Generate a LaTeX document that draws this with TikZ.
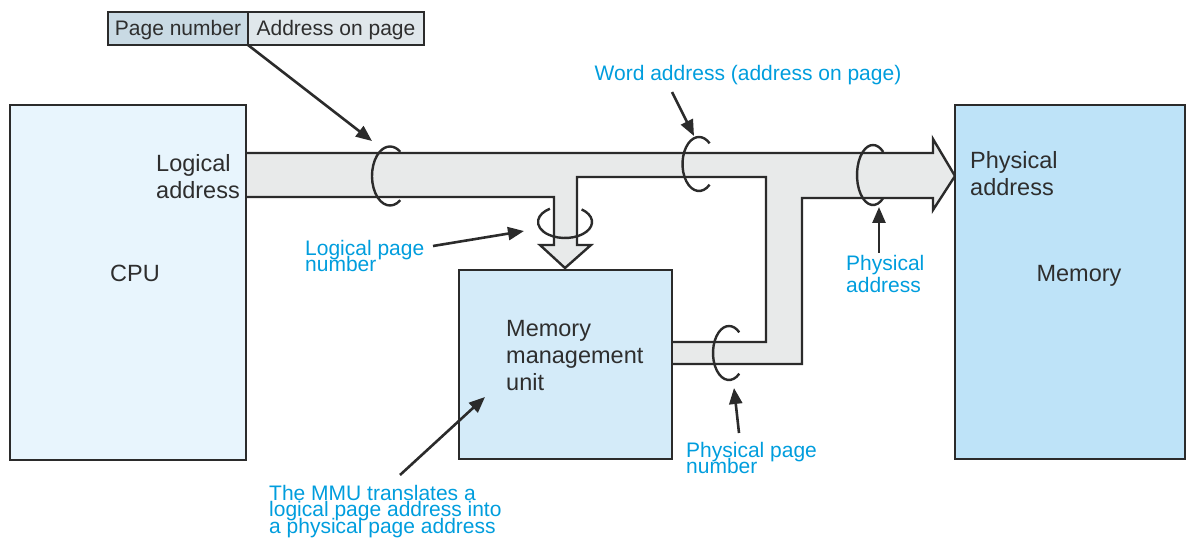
\documentclass[tikz,border=0pt]{standalone}
\usepackage{fontspec}
\setmainfont{Liberation Sans}
\usetikzlibrary{arrows.meta}

\definecolor{ink}{HTML}{2E2E2E}
\definecolor{linecol}{HTML}{2B2B2B}
\definecolor{noteblue}{HTML}{009DDD}
\definecolor{cpufill}{HTML}{E8F5FD}
\definecolor{mmufill}{HTML}{D4EBF9}
\definecolor{memfill}{HTML}{BEE3F8}
\definecolor{pipefill}{HTML}{E8EAEA}
\definecolor{pagefill}{HTML}{C9DAE4}
\definecolor{offfill}{HTML}{E0E7EB}

% tight leading for the blue annotations
\newcommand{\notetype}[1]{\fontsize{21}{#1}\selectfont\lineskiplimit-30pt\relax}

\begin{document}
\begin{tikzpicture}[x=1pt,y=-1pt,
  unitbox/.style={draw=linecol, line width=2.4pt, inner sep=0pt, outer sep=0pt},
  fieldbox/.style={draw=linecol, line width=2.4pt, inner sep=0pt, outer sep=0pt,
    minimum height=33pt, text height=17pt, text depth=3pt,
    text=ink, font=\fontsize{21}{24}\selectfont},
  pipeline/.style={draw=linecol, line width=2.4pt, line join=miter},
  ring/.style={draw=linecol, line width=2.4pt},
  pointer/.style={draw=linecol, line width=2.6pt, -{Triangle[length=16pt,width=13pt]}},
  boxlabel/.style={text=ink, inner sep=0pt, font=\fontsize{23.5}{27}\selectfont},
  note/.style={text=noteblue, inner sep=0pt, align=left, font={\notetype{16.5}}}]
\useasboundingbox (0,0) rectangle (1187,540);

% address word split into page number and offset
\node[fieldbox, fill=pagefill, minimum width=140pt] (hdrpage) at (178,28.5) {Page number};
\node[fieldbox, fill=offfill, minimum width=176pt] (hdroff) at (336,28.5) {Address on page};

% address bus: fill, then outline (open where it meets the boxes)
\fill[pipefill] (246,153) -- (933,153) -- (933,139) -- (955,176) -- (933,210) -- (933,198)
  -- (802,198) -- (802,364) -- (672,364) -- (672,342) -- (766,342) -- (766,177)
  -- (577,177) -- (577,245) -- (591,245) -- (565,268) -- (540,245) -- (554,245)
  -- (554,197) -- (246,197) -- cycle;
\draw[pipeline] (246,153) -- (933,153) -- (933,139) -- (955,176) -- (933,210) -- (933,198)
  -- (802,198) -- (802,364) -- (672,364);
\draw[pipeline] (672,342) -- (766,342) -- (766,177)
  -- (577,177) -- (577,245) -- (591,245) -- (565,268) -- (540,245) -- (554,245)
  -- (554,197) -- (246,197);

% functional units
\node[unitbox, fill=cpufill, minimum width=236pt, minimum height=355pt] (cpu) at (128,282.5) {};
\node[unitbox, fill=mmufill, minimum width=213pt, minimum height=189pt] (mmu) at (565.5,364.5) {};
\node[unitbox, fill=memfill, minimum width=230pt, minimum height=354pt] (mem) at (1070,282) {};

\node[boxlabel, anchor=north west, align=left] (logaddr) at (156,154) {Logical\\address};
\node[boxlabel] (cpulbl) at (135,273) {CPU};
\node[boxlabel, anchor=north west, align=left] (mmulbl) at (506,320) {Memory\\management\\unit};
\node[boxlabel, anchor=north west, align=left] (memaddr) at (970,151) {Physical\\address};
\node[boxlabel] (memlbl) at (1079,276) {Memory};

% rings marking the bus fields
\draw[ring] (390,176) ++(55:18 and 29.5) arc[start angle=55, end angle=305, x radius=18, y radius=29.5];
\draw[ring] (699,164) ++(50:16.5 and 27) arc[start angle=50, end angle=310, x radius=16.5, y radius=27];
\draw[ring] (873,175) ++(50:16 and 30) arc[start angle=50, end angle=310, x radius=16, y radius=30];
\draw[ring] (729,353) ++(50:16 and 27) arc[start angle=50, end angle=310, x radius=16, y radius=27];
\draw[ring] (565,222) ++(-52:27 and 16) arc[start angle=-52, end angle=236, x radius=27, y radius=16];

% notes
\node[note] (wordlbl) at (748,75) {Word address (address on page)};
\node[note, anchor=north west] (lpnlbl) at (305,240) {Logical page\\number};
\node[note, anchor=north west, font={\notetype{22}}] (palbl) at (846,255) {Physical\\address};
\node[note, anchor=north west] (ppnlbl) at (686,442) {Physical page\\number};
\node[note, anchor=north west] (mmunote) at (269,485) {The MMU translates a\\logical page address into\\a physical page address};

% pointers from notes to the rings
\coordinate (ringtip1) at (372,141);
\coordinate (wordtail) at (672,92);
\coordinate (wordtip) at (694,136);
\coordinate (lpntail) at (433,246);
\coordinate (lpntip) at (524,231);
\coordinate (patail) at (879,253);
\coordinate (patip) at (879,207);
\coordinate (ppntail) at (739,433);
\coordinate (ppntip) at (734,388);
\coordinate (notetail) at (400,475);
\coordinate (notetip) at (485,397);

\draw[pointer] (hdrpage.south east) -- (ringtip1);
\draw[pointer] (wordtail) -- (wordtip);
\draw[pointer] (lpntail) -- (lpntip);
\draw[pointer] (patail) -- (patip);
\draw[pointer] (ppntail) -- (ppntip);
\draw[pointer] (notetail) -- (notetip);
\end{tikzpicture}
\end{document}
